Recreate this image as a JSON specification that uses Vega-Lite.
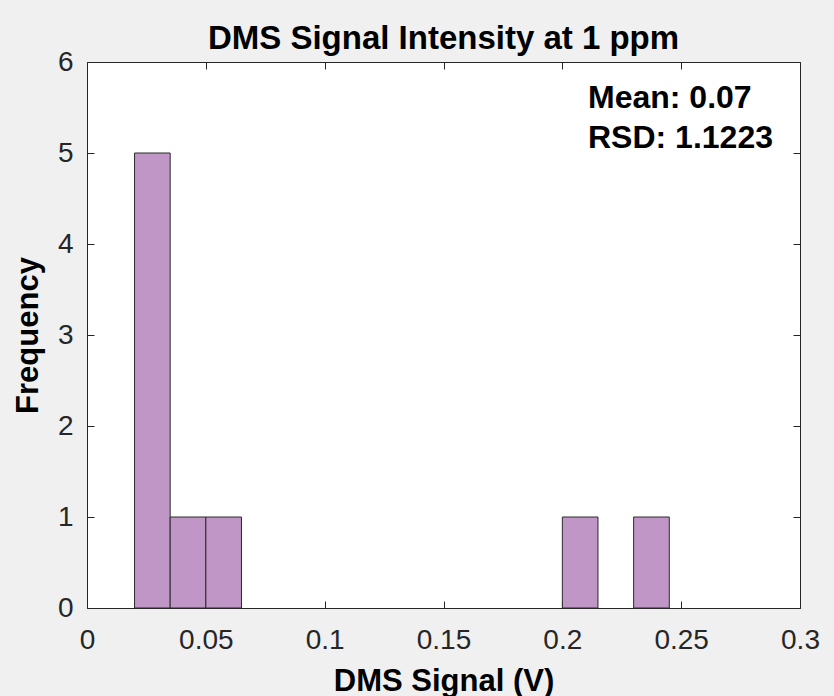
{
  "$schema": "https://vega.github.io/schema/vega-lite/v6.json",
  "autosize": "none",
  "width": 713,
  "height": 546,
  "padding": {"left": 87, "top": 62, "right": 34, "bottom": 88},
  "background": "#f0f0f0",
  "config": {
    "font": "Liberation Sans",
    "view": {"fill": "white", "stroke": "#262626", "strokeWidth": 1},
    "axis": {
      "domain": false,
      "grid": false,
      "tickColor": "#262626",
      "tickSize": -7,
      "tickWidth": 1,
      "labelFlush": false,
      "labelColor": "#262626",
      "labelFont": "Liberation Sans",
      "labelFontSize": 28,
      "titleColor": "#000000",
      "titleFont": "Liberation Sans",
      "titleFontSize": 31,
      "titleFontWeight": "bold"
    }
  },
  "title": {
    "text": "DMS Signal Intensity at 1 ppm",
    "font": "Liberation Sans",
    "fontSize": 33,
    "fontWeight": "bold",
    "color": "#000000",
    "anchor": "middle",
    "offset": -8
  },
  "datasets": {
    "bins": [
      {"bin_start": 0.02, "bin_end": 0.035, "count": 5},
      {"bin_start": 0.035, "bin_end": 0.05, "count": 1},
      {"bin_start": 0.05, "bin_end": 0.065, "count": 1},
      {"bin_start": 0.2, "bin_end": 0.215, "count": 1},
      {"bin_start": 0.23, "bin_end": 0.245, "count": 1}
    ],
    "notes": [
      {"tx": 0.2108, "ty": 5.495, "label": "Mean: 0.07"},
      {"tx": 0.2108, "ty": 5.055, "label": "RSD: 1.1223"}
    ]
  },
  "resolve": {"axis": {"x": "independent", "y": "independent"}},
  "layer": [
    {
      "data": {"name": "bins"},
      "mark": {"type": "bar", "fill": "#bf96c6", "stroke": "#2b2b2b", "strokeWidth": 1},
      "encoding": {
        "x": {
          "field": "bin_start",
          "type": "quantitative",
          "scale": {"domain": [0, 0.3], "nice": false, "zero": false},
          "axis": {
            "orient": "bottom",
            "values": [0, 0.05, 0.1, 0.15, 0.2, 0.25, 0.3],
            "format": "~g",
            "labelPadding": 25,
            "title": "DMS Signal (V)",
            "titlePadding": 12
          }
        },
        "x2": {"field": "bin_end"},
        "y": {
          "field": "count",
          "type": "quantitative",
          "scale": {"domain": [0, 6], "nice": false},
          "axis": {
            "orient": "left",
            "values": [0, 1, 2, 3, 4, 5, 6],
            "labelPadding": 21,
            "title": "Frequency",
            "titlePadding": 13
          }
        },
        "y2": {"datum": 0}
      }
    },
    {
      "data": {"name": "notes"},
      "mark": {
        "type": "text",
        "align": "left",
        "baseline": "alphabetic",
        "font": "Liberation Sans",
        "fontSize": 32,
        "fontWeight": "bold",
        "color": "#000000"
      },
      "encoding": {
        "x": {
          "field": "tx",
          "type": "quantitative",
          "scale": {"domain": [0, 0.3], "nice": false, "zero": false},
          "axis": {
            "orient": "top",
            "values": [0, 0.05, 0.1, 0.15, 0.2, 0.25, 0.3],
            "labels": false,
            "title": null
          }
        },
        "y": {
          "field": "ty",
          "type": "quantitative",
          "scale": {"domain": [0, 6], "nice": false},
          "axis": {
            "orient": "right",
            "values": [0, 1, 2, 3, 4, 5, 6],
            "labels": false,
            "title": null
          }
        },
        "text": {"field": "label"}
      }
    }
  ]
}
